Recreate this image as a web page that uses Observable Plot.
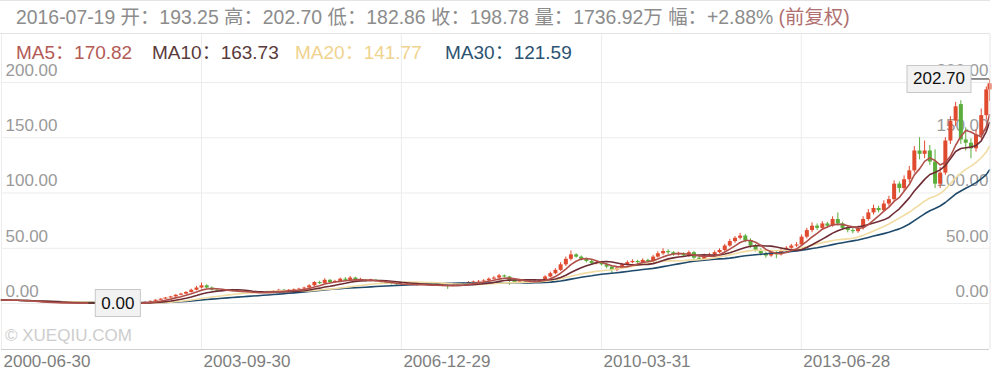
<!DOCTYPE html>
<html><head><meta charset="utf-8">
<script src="https://cdn.jsdelivr.net/npm/d3@7"></script>
<script src="https://cdn.jsdelivr.net/npm/@observablehq/plot@0.6"></script>
<style>
body{margin:0;background:#fff;font-family:"Liberation Sans",Arial,"Noto Sans CJK SC",sans-serif;}
#wrap{position:relative;width:993px;height:377px;overflow:hidden;}
#hdr{position:absolute;left:0;top:0;width:990px;height:34px;border-top:1px solid #e4e4e4;border-bottom:1px solid #e4e4e4;box-sizing:border-box;font-size:19.4px;color:#8c8c8c;line-height:32px;padding-left:16px;white-space:nowrap;}
#hdr .q{color:#b07070;}
#chart{position:absolute;left:0;top:34px;}
.lg{position:absolute;top:42px;font-size:19px;white-space:nowrap;line-height:22px;}
#wm{position:absolute;left:5px;top:326px;font-size:17px;color:#cdcdcd;}
</style></head>
<body>
<div id="wrap">
<div id="hdr">2016-07-19 开：193.25 高：202.70 低：182.86 收：198.78 量：1736.92万 幅：+2.88% <span class="q">(前复权)</span></div>
<div id="chart"></div>
<div id="legend"></div>
<div id="wm">© XUEQIU.COM</div>
</div>
<script>
// ---- data (monthly candles, front-adjusted) ----
const firstMonth = "2000-06";
const lastDay = "2016-07-19";
const open = [
3.3,3.2,3.0,2.8,2.6,2.3,1.9,1.5,1.1,0.8,
0.6,0.5,0.5,0.4,0.4,0.3,0.3,0.3,0.2,0.2,
0.3,0.2,0.2,0.3,0.3,0.4,0.4,0.5,0.6,1.2,
2.0,3.0,4.0,5.0,6.0,7.5,8.5,10.0,12.0,14.0,
16.0,14.0,12.0,11.0,11.5,12.0,11.0,10.5,10.0,10.0,
9.5,9.5,10.0,10.5,11.0,12.0,11.5,12.0,12.5,13.0,
14.0,16.0,19.0,18.0,21.0,19.0,20.0,22.0,21.0,23.0,
21.0,21.0,20.0,21.0,20.0,19.0,18.0,17.5,17.0,17.0,
17.5,17.0,16.5,17.0,16.5,16.0,16.5,16.0,15.5,16.5,
17.0,18.0,19.0,19.5,20.0,20.5,22.0,23.0,25.0,24.0,
21.0,19.0,20.0,19.5,20.0,20.0,21.0,24.0,27.0,30.0,
35.0,40.0,44.0,42.0,40.0,38.0,36.0,37.0,35.0,33.0,
30.0,32.0,35.0,37.0,38.0,37.0,39.0,38.0,42.0,45.0,
47.0,46.0,44.0,45.0,43.0,46.0,41.0,40.0,43.0,44.0,
46.0,48.0,52.0,56.0,59.0,61.0,57.0,52.0,48.0,45.0,
43.0,46.0,44.0,48.0,50.0,52.0,53.0,60.0,66.0,70.0,
68.0,72.0,70.0,76.0,72.0,68.0,66.0,65.0,68.0,76.0,
82.0,86.0,84.0,90.0,94.0,108.0,104.0,112.0,120.0,138.0,
135.0,138.0,128.0,108.0,118.0,147.0,165.0,180.0,148.0,145.0,
140.0,152.0,170.0,193.25];
const high = [
3.5,3.4,3.2,3.0,2.8,2.5,2.1,1.7,1.3,1.0,
0.8,0.7,0.6,0.6,0.5,0.5,0.4,0.4,0.4,0.4,
0.4,0.4,0.4,0.4,0.5,0.5,0.6,0.7,1.4,2.3,
3.3,4.4,5.4,6.5,8.0,9.2,10.8,13.0,15.5,18.5,
17.0,15.0,12.8,12.2,12.6,12.8,11.8,11.2,10.8,10.6,
10.2,10.6,11.0,11.6,12.8,12.6,12.6,13.2,13.8,14.8,
17.0,19.8,20.2,22.4,21.8,21.0,23.0,23.4,24.5,23.8,
22.8,21.8,22.0,21.8,20.8,19.8,18.8,18.4,17.8,18.4,
18.4,17.8,17.6,17.8,17.4,17.2,17.3,16.8,17.2,17.8,
18.9,19.8,20.3,20.8,21.6,23.2,24.4,26.4,25.8,24.6,
21.8,20.6,20.5,20.4,20.8,21.8,25.2,28.4,31.5,37.0,
42.0,47.5,45.0,43.0,41.0,39.0,38.5,38.2,36.0,34.0,
33.2,36.4,38.5,39.6,39.2,40.4,40.2,43.6,46.8,49.5,
48.6,47.0,46.4,46.0,47.5,47.0,42.5,44.5,45.5,47.5,
49.5,53.5,58.0,60.5,63.5,62.5,58.5,53.5,49.5,46.5,
47.5,47.5,49.5,51.5,53.5,55.0,62.0,68.0,73.0,72.0,
74.0,73.5,78.5,82.0,73.5,70.0,68.0,70.0,78.5,85.0,
89.0,88.0,93.0,97.0,111.0,110.0,115.5,124.0,142.0,150.0,
147.0,143.0,139.0,123.0,150.0,169.0,182.0,183.5,159.0,149.0,
157.0,176.0,196.0,202.70];
const low = [
3.0,2.8,2.6,2.4,2.1,1.7,1.3,0.9,0.6,0.4,
0.3,0.3,0.2,0.2,0.1,0.1,0.1,0.0,0.0,0.1,
0.0,0.0,0.1,0.1,0.2,0.2,0.3,0.4,0.5,1.0,
1.8,2.7,3.7,4.7,5.6,7.0,8.0,9.5,11.5,13.2,
13.2,11.4,10.4,10.5,11.0,10.6,10.0,9.6,9.4,9.0,
9.0,9.1,9.6,10.0,10.6,11.0,11.0,11.6,12.0,12.6,
13.5,15.5,17.2,17.5,18.2,18.2,19.4,20.5,20.4,20.5,
20.2,19.2,19.4,19.5,18.2,17.2,16.8,16.4,16.2,16.4,
16.3,15.8,16.0,16.0,15.4,15.4,15.2,12.8,15.0,16.0,
16.6,17.4,18.4,18.8,19.2,19.8,21.2,22.4,23.0,16.5,
18.0,18.2,18.8,18.6,19.2,19.2,20.4,23.2,26.0,29.0,
33.5,38.5,41.0,38.5,36.8,34.5,35.0,34.0,31.5,27.0,
28.8,31.0,34.0,36.0,35.8,36.0,37.0,37.2,41.0,43.6,
44.0,42.8,43.0,41.8,41.8,39.0,38.5,39.0,42.0,43.0,
45.0,46.8,51.0,54.5,57.5,55.0,50.0,46.5,43.0,41.0,
41.8,40.5,43.0,46.5,48.5,50.8,52.0,58.5,64.0,66.0,
66.5,68.0,69.0,70.0,66.0,64.0,63.0,63.5,66.5,74.5,
80.0,82.0,82.5,88.0,92.0,100.0,101.0,109.0,118.0,130.0,
131.0,125.0,104.0,104.0,116.0,144.0,160.0,144.0,138.0,131.0,
137.0,148.0,166.0,182.86];
const close = [
3.2,3.0,2.8,2.6,2.3,1.9,1.5,1.1,0.8,0.6,
0.5,0.5,0.4,0.4,0.3,0.3,0.3,0.2,0.2,0.3,
0.2,0.2,0.3,0.3,0.4,0.4,0.5,0.6,1.2,2.0,
3.0,4.0,5.0,6.0,7.5,8.5,10.0,12.0,14.0,16.0,
14.0,12.0,11.0,11.5,12.0,11.0,10.5,10.0,10.0,9.5,
9.5,10.0,10.5,11.0,12.0,11.5,12.0,12.5,13.0,14.0,
16.0,19.0,18.0,21.0,19.0,20.0,22.0,21.0,23.0,21.0,
21.0,20.0,21.0,20.0,19.0,18.0,17.5,17.0,17.0,17.5,
17.0,16.5,17.0,16.5,16.0,16.5,16.0,15.5,16.5,17.0,
18.0,19.0,19.5,20.0,20.5,22.0,23.0,25.0,24.0,21.0,
19.0,20.0,19.5,20.0,20.0,21.0,24.0,27.0,30.0,35.0,
40.0,44.0,42.0,40.0,38.0,36.0,37.0,35.0,33.0,30.0,
32.0,35.0,37.0,38.0,37.0,39.0,38.0,42.0,45.0,47.0,
46.0,44.0,45.0,43.0,46.0,41.0,40.0,43.0,44.0,46.0,
48.0,52.0,56.0,59.0,61.0,57.0,52.0,48.0,45.0,43.0,
46.0,44.0,48.0,50.0,52.0,53.0,60.0,66.0,70.0,68.0,
72.0,70.0,76.0,72.0,68.0,66.0,65.0,68.0,76.0,82.0,
86.0,84.0,90.0,94.0,108.0,104.0,112.0,120.0,138.0,135.0,
138.0,128.0,108.0,118.0,147.0,165.0,178.0,148.0,145.0,140.0,
152.0,170.0,193.3,198.78];
const yTicks = [0, 50, 100, 150, 200];
const xTickLabels = ["2000-06-30", "2003-09-30", "2006-12-29", "2010-03-31", "2013-06-28"];
const maNames = ["MA5", "MA10", "MA20", "MA30"];
const maPeriods = [5, 10, 20, 30];
const maValues = ["170.82", "163.73", "141.77", "121.59"];
const maLineColors = ["#b0504a", "#6e2d35", "#f1dca2", "#1f4a6b"];
const maTextColors = ["#b35a55", "#5a3a3a", "#efd38e", "#2c5270"];
const upColor = "#e04a2e", downColor = "#5aad3a";

// ---- build table ----
const parse = d3.utcParse("%Y-%m-%d");
const start = d3.utcParse("%Y-%m")(firstMonth);
const months = d3.utcMonth.range(start, d3.utcMonth.offset(start, close.length));
const dates = months.map((m, i) => i === months.length - 1 ? parse(lastDay) : d3.utcDay.offset(d3.utcMonth.offset(m, 1), -1));
const data = dates.map((date, i) => ({date, open: open[i], high: high[i], low: low[i], close: close[i],
  color: close[i] >= open[i] ? upColor : downColor}));
const xTicks = xTickLabels.map(parse);

const W = 993, H = 343;
const yMin = -41.6, yMax = 243.4;

const marks = [
  Plot.ruleY(yTicks, {stroke: "#ececec"}),
  Plot.ruleX(xTicks, {stroke: "#ececec"}),
  Plot.ruleY([yMin], {stroke: "#cfcfcf"}),
  Plot.text(yTicks, {y: d => d, text: d => d.toFixed(2), frameAnchor: "left", textAnchor: "start", dx: 4, dy: -12, fill: "#9a9a9a", fontSize: 17}),
  Plot.text(yTicks, {y: d => d, text: d => d.toFixed(2), frameAnchor: "right", textAnchor: "end", dx: -1, dy: -12, fill: "#9a9a9a", fontSize: 17}),
  Plot.text(xTicks, {x: d => d, text: d => d3.utcFormat("%Y-%m-%d")(d), frameAnchor: "bottom", textAnchor: "start", dx: 2, dy: 17, fill: "#7e7e7e", fontSize: 17}),
  Plot.ruleX(data, {x: "date", y1: "low", y2: "high", stroke: "color", strokeWidth: 1}),
  Plot.ruleX(data, {x: "date", y1: "open", y2: "close", stroke: "color", strokeWidth: 4}),
];
// draw MA30 first so MA5 is on top
for (let j = maPeriods.length - 1; j >= 0; j--) {
  marks.push(Plot.lineY(data, Plot.windowY({k: maPeriods[j], anchor: "end"}, {x: "date", y: "close", stroke: maLineColors[j], strokeWidth: 1.6})));
}

const chart = Plot.plot({
  width: W, height: H,
  marginLeft: 1, marginRight: 4, marginTop: 0, marginBottom: 28,
  style: {fontFamily: "'Liberation Sans', Arial, sans-serif", background: "transparent", overflow: "visible"},
  x: {type: "utc", domain: [dates[0], dates[dates.length - 1]], axis: null},
  y: {domain: [yMin, yMax], axis: null},
  color: {type: "identity"},
  marks
});
document.getElementById("chart").appendChild(chart);

// right border of panel
d3.select(chart).append("line").attr("x1", 990).attr("x2", 990).attr("y1", 0).attr("y2", H - 28).attr("stroke", "#e6e6e6");

// legend
const lg = document.getElementById("legend");
const lgX = [16, 152, 295, 445];
maNames.forEach((n, j) => {
  const d = document.createElement("div");
  d.className = "lg"; d.style.left = lgX[j] + "px"; d.style.color = maTextColors[j];
  d.textContent = n + "：" + maValues[j];
  lg.appendChild(d);
});

// max / min price flags, positioned through the chart's scales
const sx = chart.scale("x"), sy = chart.scale("y");
function flag(i, val, side) {
  const px = sx.apply(dates[i]), py = sy.apply(val);
  const g = d3.select(chart).append("g");
  const t = g.append("text").text(val.toFixed(2)).attr("font-size", 17).attr("fill", "#111")
    .attr("text-anchor", "start").attr("dominant-baseline", "central").attr("y", py);
  const w = t.node().getComputedTextLength();
  const bw = w + 12, bh = 27, gap = side === "left" ? 18 : 7;
  const bx = side === "left" ? px - gap - bw : px + gap;
  g.insert("rect", "text").attr("x", bx).attr("y", py - bh / 2).attr("width", bw).attr("height", bh)
    .attr("fill", "#f2f2f2").attr("stroke", "#c8c8c8");
  t.attr("x", bx + 6);
  g.insert("line", "rect").attr("x1", side === "left" ? bx + bw : px).attr("x2", side === "left" ? px : bx)
    .attr("y1", py).attr("y2", py).attr("stroke", "#222");
}
flag(d3.maxIndex(high), d3.max(high), "left");
flag(d3.minIndex(low), d3.min(low), "right");
</script>
</body></html>
